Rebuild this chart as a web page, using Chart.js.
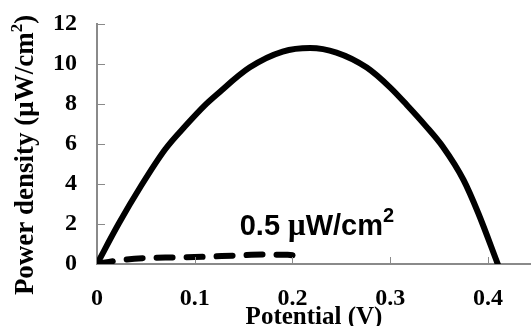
<!DOCTYPE html>
<html>
<head>
<meta charset="utf-8">
<script src="https://cdn.jsdelivr.net/npm/chart.js@4.4.1/dist/chart.umd.min.js"></script>
<style>
  html, body { margin: 0; padding: 0; background: #fff; }
  canvas { display: block; }
</style>
</head>
<body>
<canvas id="c" width="531" height="326"></canvas>
<script>
// ---- Data ----
const largeV = [0, 0.022, 0.045, 0.07, 0.0915, 0.11, 0.122, 0.156, 0.19, 0.218, 0.245, 0.276, 0.30, 0.317, 0.336, 0.354, 0.375, 0.39, 0.41];
const largeP = [0, 2.0, 3.9, 5.75, 6.96, 7.92, 8.45, 9.82, 10.62, 10.8, 10.57, 9.82, 8.82, 7.95, 6.92, 5.85, 4.2, 2.55, 0];
const smallV = [0, 0.02, 0.05, 0.08, 0.11, 0.14, 0.17, 0.195, 0.205, 0.21];
const smallP = [0, 0.17, 0.3, 0.33, 0.36, 0.42, 0.47, 0.46, 0.35, 0.15];
const xTicks = [0, 0.1, 0.2, 0.3, 0.4];
const yTicks = [0, 2, 4, 6, 8, 10, 12];
const xTitle = "Potential (V)";
const yTitleMain = "Power density (\u03BCW/cm";
const yTitleSup = "2";
const yTitleEnd = ")";
const annotation = { x: 0.146, y: 1.47, num: "0.5 ", mu: "\u03BC", unit: "W/cm", sup: "2" };

const AXIS = '#8a8a8a';
const serifBold = (s) => 'bold ' + s + 'px "Liberation Serif", "Times New Roman", serif';
const sansBold = (s) => 'bold ' + s + 'px "Liberation Sans", Arial, sans-serif';

const toPts = (xs, ys) => xs.map((x, i) => ({ x: x, y: ys[i] }));

const decor = {
  id: 'decor',
  afterDraw(chart) {
    const ctx = chart.ctx;
    const xs = chart.scales.x, ys = chart.scales.y;
    const ca = chart.chartArea;
    ctx.save();
    // inner tick marks
    ctx.strokeStyle = AXIS;
    ctx.lineWidth = 1;
    yTicks.forEach(v => {
      if (v === 0) return;
      const py = Math.round(ys.getPixelForValue(v)) + 0.5;
      ctx.beginPath(); ctx.moveTo(ca.left, py); ctx.lineTo(ca.left + 8, py); ctx.stroke();
    });
    xTicks.forEach(v => {
      if (v === 0) return;
      const px = Math.round(xs.getPixelForValue(v)) + 0.5;
      ctx.beginPath(); ctx.moveTo(px, ca.bottom); ctx.lineTo(px, ca.bottom - 7); ctx.stroke();
    });
    // x title
    ctx.fillStyle = '#000';
    ctx.font = serifBold(25);
    ctx.textAlign = 'center';
    ctx.textBaseline = 'alphabetic';
    ctx.fillText(xTitle, (ca.left + ca.right) / 2, 324);
    // y title (rotated, with superscript)
    ctx.save();
    ctx.translate(33, (ca.top + ca.bottom) / 2 + 11);
    ctx.rotate(-Math.PI / 2);
    ctx.font = serifBold(27);
    const w1 = ctx.measureText(yTitleMain).width;
    ctx.font = serifBold(17);
    const w2 = ctx.measureText(yTitleSup).width;
    ctx.font = serifBold(27);
    const w3 = ctx.measureText(yTitleEnd).width;
    let x0 = -(w1 + w2 + w3) / 2;
    ctx.textAlign = 'left';
    ctx.fillText(yTitleMain, x0, 0);
    ctx.font = serifBold(17);
    ctx.fillText(yTitleSup, x0 + w1, -11);
    ctx.font = serifBold(27);
    ctx.fillText(yTitleEnd, x0 + w1 + w2, 0);
    ctx.restore();
    // annotation
    let ax = xs.getPixelForValue(annotation.x);
    const ay = ys.getPixelForValue(annotation.y);
    ctx.textAlign = 'left';
    ctx.font = sansBold(29);
    ctx.fillText(annotation.num, ax, ay); ax += ctx.measureText(annotation.num).width;
    ctx.font = 'bold 31px "Liberation Serif", serif';
    ctx.fillText(annotation.mu, ax, ay); ax += ctx.measureText(annotation.mu).width;
    ctx.font = sansBold(29);
    ctx.fillText(annotation.unit, ax, ay); ax += ctx.measureText(annotation.unit).width;
    ctx.font = sansBold(20);
    ctx.fillText(annotation.sup, ax, ay - 13);
    ctx.restore();
  }
};

new Chart(document.getElementById('c'), {
  type: 'line',
  data: {
    datasets: [
      {
        data: toPts(largeV, largeP),
        borderColor: '#000',
        borderWidth: 6,
        pointRadius: 0,
        cubicInterpolationMode: 'monotone',
        borderCapStyle: 'round',
        fill: false
      },
      {
        data: toPts(smallV, smallP),
        borderColor: '#000',
        borderWidth: 6,
        borderDash: [16, 14],
        borderCapStyle: 'round',
        pointRadius: 0,
        cubicInterpolationMode: 'monotone',
        fill: false
      }
    ]
  },
  options: {
    responsive: false,
    animation: false,
    events: [],
    layout: { padding: { top: 24, right: 0, left: 0, bottom: 0 } },
    plugins: { legend: { display: false }, tooltip: { enabled: false } },
    scales: {
      x: {
        type: 'linear',
        min: 0, max: 0.444,
        afterBuildTicks: (s) => { s.ticks = xTicks.map(v => ({ value: v })); },
        afterFit: (s) => { s.height = 62; s.paddingLeft = 0; s.paddingRight = 0; },
        grid: { display: false, drawTicks: false },
        border: { display: true, color: AXIS, width: 2 },
        ticks: {
          padding: 20,
          color: '#000',
          font: { family: '"Liberation Serif", serif', size: 24, weight: 'bold' },
          callback: (v) => String(v)
        }
      },
      y: {
        min: 0, max: 12,
        afterBuildTicks: (s) => { s.ticks = yTicks.map(v => ({ value: v })); },
        afterFit: (s) => { s.width = 97; s.paddingTop = 0; s.paddingBottom = 0; },
        grid: { display: false, drawTicks: false },
        border: { display: true, color: AXIS, width: 2 },
        ticks: {
          padding: 20,
          color: '#000',
          font: { family: '"Liberation Serif", serif', size: 24, weight: 'bold' },
          callback: (v) => String(v)
        }
      }
    }
  },
  plugins: [decor]
});
</script>
</body>
</html>
